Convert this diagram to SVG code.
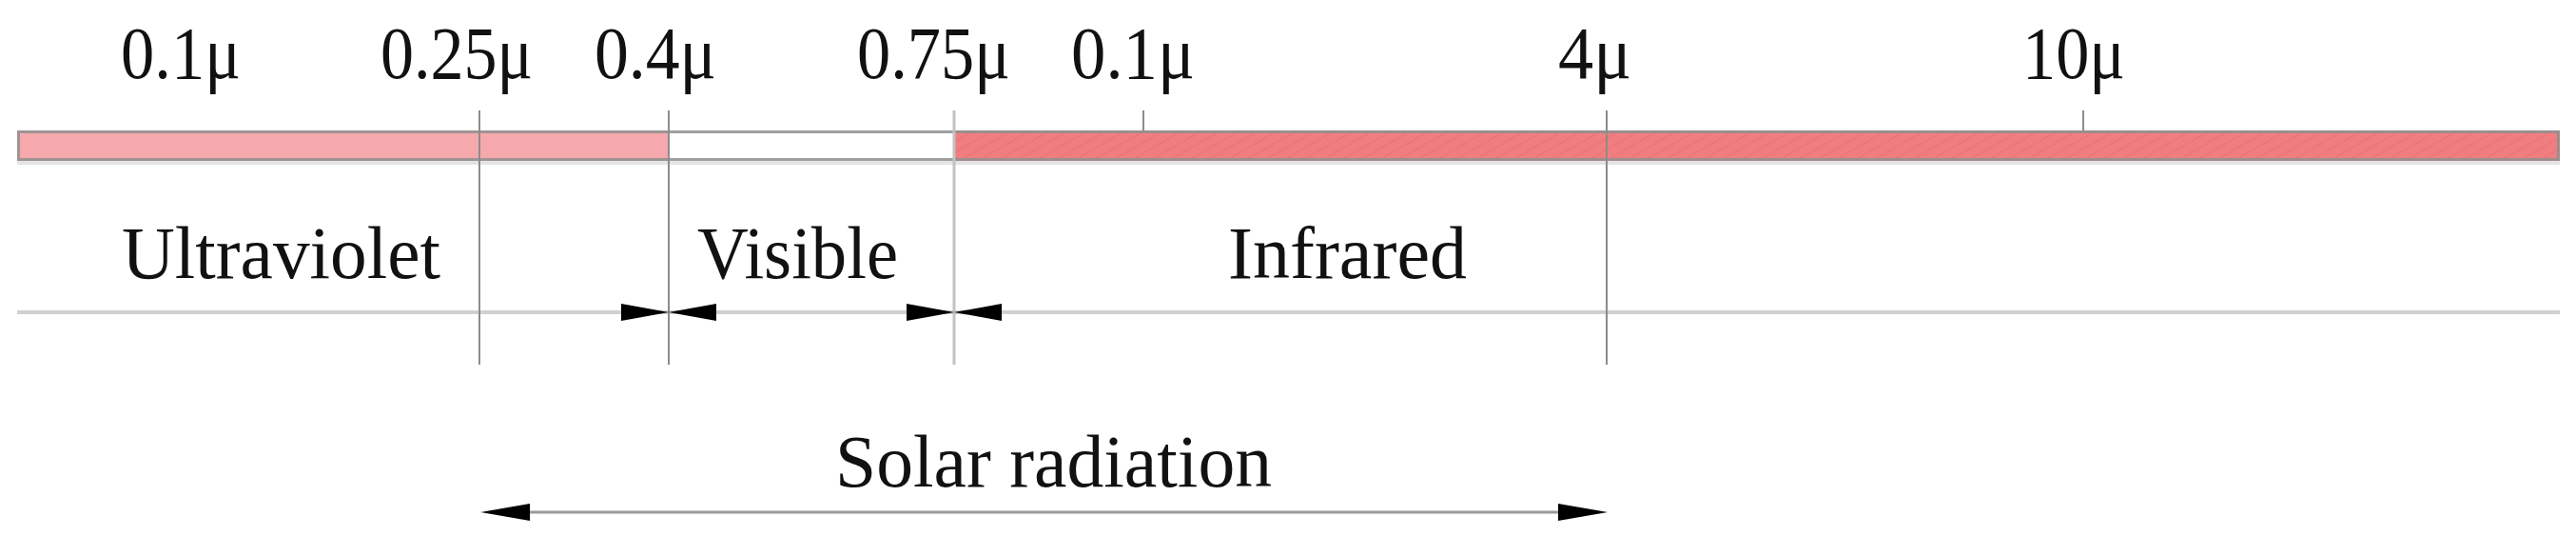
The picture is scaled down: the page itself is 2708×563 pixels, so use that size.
<svg xmlns="http://www.w3.org/2000/svg" width="2708" height="563" viewBox="0 0 2708 563">
  <style>
    .lbl { font-family: "Liberation Serif", "Times New Roman", serif; font-size: 78px; fill: #111; }
    .vline { stroke: #8c8c8c; stroke-width: 2; }
    .vline-light { stroke: #c2c2c2; stroke-width: 3; }
    .tick { stroke: #8c8c8c; stroke-width: 2; }
    .dimline { stroke: #d0d0d0; stroke-width: 4; }
    .solarline { stroke: #9a9a9a; stroke-width: 3; }
    .arrow { fill: #000; }
  </style>
  <defs>
    <pattern id="hatch" width="10" height="10" patternUnits="userSpaceOnUse" patternTransform="rotate(60)">
      <rect width="10" height="10" fill="#f07e80"/>
      <line x1="0" y1="0" x2="0" y2="10" stroke="#e97275" stroke-width="2"/>
    </pattern>
    <path id="ah" d="M0,0 L-50,-9 L-50,9 Z"/>
  </defs>
  <rect width="2708" height="563" fill="#ffffff"/>

  <g id="bar">
    <rect x="18" y="169" width="2673" height="4" fill="#e4e4e4"/>
    <rect x="18" y="137" width="685" height="32" fill="#f5a9ad"/>
    <rect x="703" y="137" width="300" height="32" fill="#ffffff"/>
    <rect x="1003" y="137" width="1688" height="32" fill="url(#hatch)"/>
    <rect x="19.5" y="138.5" width="2670" height="29" fill="none" stroke="#8f8f8f" stroke-width="3" stroke-opacity="0.85"/>
  </g>

  <g id="ticks">
    <line class="tick" x1="1202" y1="116" x2="1202" y2="138"/>
    <line class="tick" x1="2190" y1="116" x2="2190" y2="138"/>
  </g>

  <g id="top-labels">
    <text class="lbl" x="127" y="82" textLength="126" lengthAdjust="spacingAndGlyphs">0.1μ</text>
    <text class="lbl" x="400" y="82" textLength="160" lengthAdjust="spacingAndGlyphs">0.25μ</text>
    <text class="lbl" x="625" y="82" textLength="128" lengthAdjust="spacingAndGlyphs">0.4μ</text>
    <text class="lbl" x="901" y="82" textLength="161" lengthAdjust="spacingAndGlyphs">0.75μ</text>
    <text class="lbl" x="1126" y="82" textLength="130" lengthAdjust="spacingAndGlyphs">0.1μ</text>
    <text class="lbl" x="1638" y="82" textLength="77" lengthAdjust="spacingAndGlyphs">4μ</text>
    <text class="lbl" x="2126" y="82" textLength="108" lengthAdjust="spacingAndGlyphs">10μ</text>
  </g>

  <g id="connectors">
    <line class="dimline" x1="18" y1="328" x2="2691" y2="328"/>
    <line class="vline" x1="504" y1="116" x2="504" y2="383"/>
    <line class="vline" x1="703" y1="116" x2="703" y2="383"/>
    <line class="vline-light" x1="1003" y1="116" x2="1003" y2="383"/>
    <line class="vline" x1="1689" y1="116" x2="1689" y2="383"/>
    <use href="#ah" class="arrow" transform="translate(703,328)"/>
    <use href="#ah" class="arrow" transform="translate(703,328) scale(-1,1)"/>
    <use href="#ah" class="arrow" transform="translate(1003,328)"/>
    <use href="#ah" class="arrow" transform="translate(1003,328) scale(-1,1)"/>
    <line class="solarline" x1="540" y1="538" x2="1655" y2="538"/>
    <use href="#ah" class="arrow" transform="translate(505,538) scale(-1.04,1)"/>
    <use href="#ah" class="arrow" transform="translate(1690,538) scale(1.04,1)"/>
  </g>

  <g id="region-labels">
    <text class="lbl" x="128" y="292" textLength="335" lengthAdjust="spacingAndGlyphs">Ultraviolet</text>
    <text class="lbl" x="733" y="292" textLength="211" lengthAdjust="spacingAndGlyphs">Visible</text>
    <text class="lbl" x="1291" y="292" textLength="251" lengthAdjust="spacingAndGlyphs">Infrared</text>
    <text class="lbl" x="878" y="511" textLength="459" lengthAdjust="spacingAndGlyphs">Solar radiation</text>
  </g>
</svg>
